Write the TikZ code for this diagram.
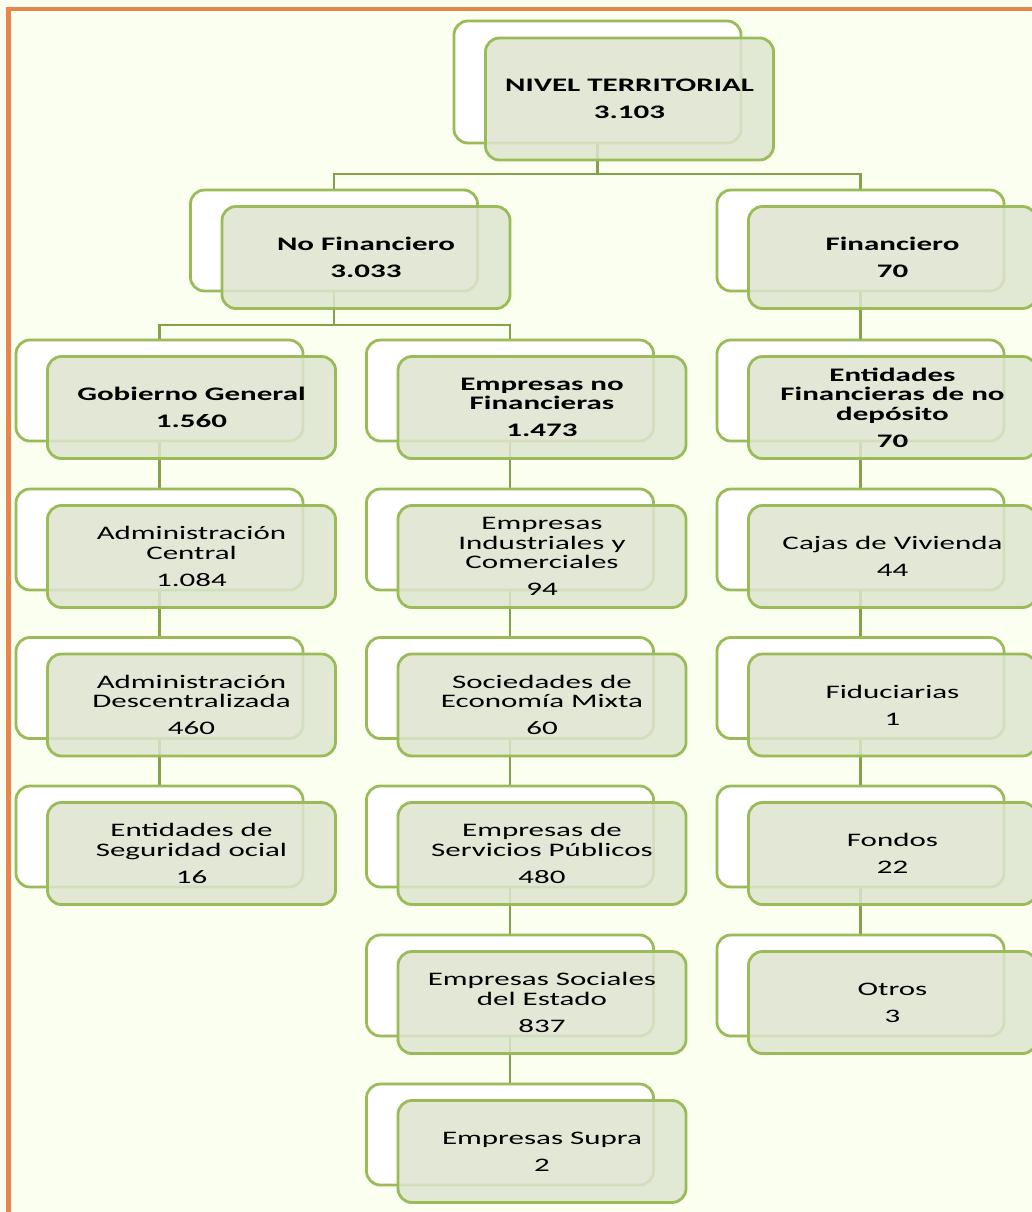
\documentclass[tikz,border=0pt]{standalone}
\usepackage{fontspec}
\setmainfont[FakeStretch=1.62]{Carlito}
\usepackage{xcolor}
\usetikzlibrary{positioning, calc}

\definecolor{paper}{HTML}{FAFFF0}
\definecolor{frame}{HTML}{E8854A}
\definecolor{boxline}{HTML}{9BBB59}
\definecolor{boxfill}{HTML}{DDE5CE}
\definecolor{linkline}{HTML}{86A04C}

\pgfdeclarelayer{paperlayer}
\pgfdeclarelayer{linklayer}
\pgfsetlayers{paperlayer,linklayer,main}

\tikzset{
    backbox/.style={draw=boxline, line width=2pt, fill=white, rounded corners=0.35cm,
        minimum width=7.175cm, minimum height=2.525cm, inner sep=0pt},
    frontbox/.style={draw=boxline, line width=2pt, fill=boxfill, fill opacity=0.85,
        text opacity=1, rounded corners=0.35cm, minimum width=7.2cm, minimum height=2.55cm,
        inner sep=0pt, align=center, font=\fontsize{13.6}{13.9}\selectfont},
    link/.style={draw=linkline, line width=2pt}
}

% one unit of the chart: white box behind, green box in front
\newcommand{\unitbox}[5][]{%
    \node[backbox, #1] (#2-b) at (#3,#4) {};
    \node[frontbox, #1] (#2) at ($(#2-b.center)+(32,17)$) {#5};
}

\begin{document}
\begin{tikzpicture}[x=0.025cm, y=-0.025cm]
    \useasboundingbox (0,0) rectangle (1032,1212);
    \begin{pgfonlayer}{paperlayer}
        \fill[paper] (0,0) rectangle (1032,1212);
        \draw[frame, line width=3.2pt] (8.5,1220) |- (1040,9);
    \end{pgfonlayer}

    % Top
    \unitbox[minimum height=3.05cm]{root}{597.5}{82}{\textbf{NIVEL TERRITORIAL}\\[5.3pt]\textbf{3.103}}

    % Second level
    \unitbox{nf}{334}{240.5}{\textbf{No Financiero}\\[5.3pt]\textbf{3.033}}
    \unitbox{fin}{860.5}{240.5}{\textbf{Financiero}\\[5.3pt]\textbf{70}}

    % Column: Gobierno General
    \unitbox{gg}{159.5}{390.5}{\textbf{Gobierno General}\\[5.3pt]\textbf{1.560}}
    \unitbox{ac}{159.5}{539.5}{Administración\\Central\\[5.3pt]1.084}
    \unitbox{ad}{159.5}{688}{Administración\\Descentralizada\\[5.3pt]460}
    \unitbox{es}{159.5}{836.5}{Entidades de\\Seguridad ocial\\[5.3pt]16}

    % Column: Empresas no Financieras
    \unitbox{enf}{510}{390.5}{\textbf{Empresas no}\\\textbf{Financieras}\\[5.3pt]\textbf{1.473}}
    \unitbox{eic}{510}{539.5}{Empresas\\Industriales y\\Comerciales\\[5.3pt]94}
    \unitbox{sem}{510}{688}{Sociedades de\\Economía Mixta\\[5.3pt]60}
    \unitbox{esp}{510}{836.5}{Empresas de\\Servicios Públicos\\[5.3pt]480}
    \unitbox{ese}{510}{985.5}{Empresas Sociales\\del Estado\\[5.3pt]837}
    \unitbox{sup}{510}{1134.5}{Empresas Supra\\[5.3pt]2}

    % Column: Financiero
    \unitbox{efd}{860.5}{390.5}{\textbf{Entidades}\\\textbf{Financieras de no}\\\textbf{depósito}\\[5.3pt]\textbf{70}}
    \unitbox{cv}{860.5}{539.5}{Cajas de Vivienda\\[5.3pt]44}
    \unitbox{fid}{860.5}{688}{Fiduciarias\\[5.3pt]1}
    \unitbox{fon}{860.5}{836.5}{Fondos\\[5.3pt]22}
    \unitbox{otr}{860.5}{985.5}{Otros\\[5.3pt]3}

    % Connectors
    \begin{pgfonlayer}{linklayer}
        \coordinate (j0) at (597.5,174);
        \coordinate (j1) at (334,325);
        \draw[link] (root-b.south) -- (j0);
        \draw[link] (nf-b.north) |- (j0) -| (fin-b.north);
        \draw[link] (nf-b.south) -- (j1);
        \draw[link] (gg-b.north) |- (j1) -| (enf-b.north);
        \foreach \a/\b in {fin/efd, gg/ac, ac/ad, ad/es, enf/eic, eic/sem, sem/esp, esp/ese, ese/sup, efd/cv, cv/fid, fid/fon, fon/otr} {
            \draw[link] (\a-b.south) -- (\b-b.north);
        }
    \end{pgfonlayer}
\end{tikzpicture}
\end{document}
